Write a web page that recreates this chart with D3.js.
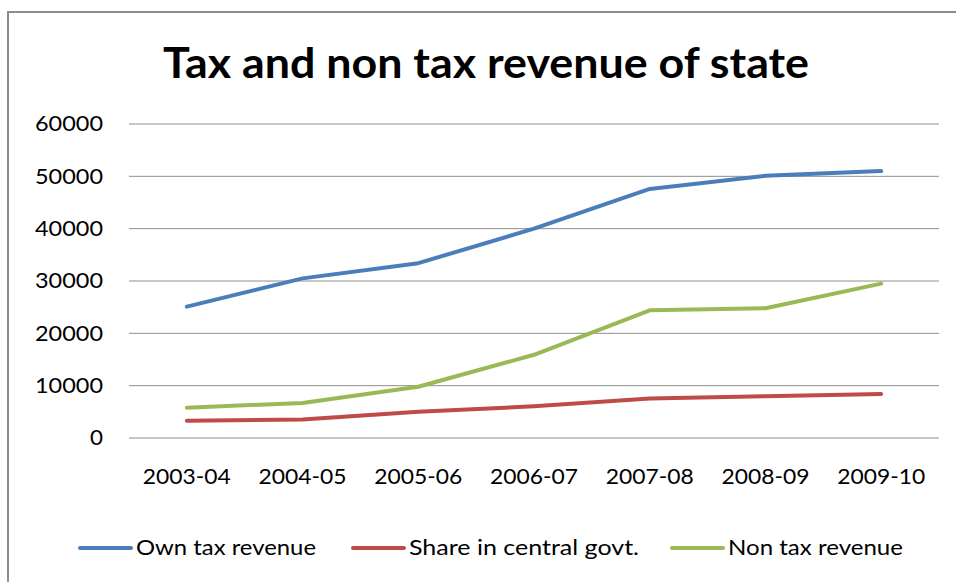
<!doctype html>
<html>
<head>
<meta charset="utf-8">
<style>
body { margin:0; background:#fff; }
svg text { font-family: Lato, "Open Sans", sans-serif; fill:#000; }
</style>
<script src="https://d3js.org/d3.v7.min.js"></script>
</head>
<body>
<script>

// chart data
var years = ['2003-04','2004-05','2005-06','2006-07','2007-08','2008-09','2009-10'];
var ownTax = [25100, 30500, 33400, 40000, 47600, 50100, 51000];
var centralShare = [3300, 3550, 5000, 6050, 7550, 8000, 8400];
var nonTax = [5800, 6700, 9800, 15900, 24400, 24800, 29500];
var yTicks = [0, 10000, 20000, 30000, 40000, 50000, 60000];
var seriesNames = ['Own tax revenue', 'Share in central govt.', 'Non tax revenue'];
var seriesColors = ['#4a7ebb', '#be4b48', '#98b954'];

var width = 956, height = 582;

var svg = d3.select('body').append('svg')
      .attr('width', width)
      .attr('height', height);

// outer chart border
svg.append('rect')
   .attr('x', 8).attr('y', 12)
   .attr('width', 960).attr('height', 590)
   .attr('fill', 'none')
   .attr('stroke', '#8c8c8c')
   .attr('stroke-width', 2);

svg.append('text')
   .attr('x', 486).attr('y', 78)
   .attr('text-anchor', 'middle')
   .attr('textLength', 646)
   .attr('lengthAdjust', 'spacingAndGlyphs')
   .style('font-size', '42px')
   .style('font-weight', 'bold')
   .text('Tax and non tax revenue of state');

var x = d3.scaleBand().domain(years).range([129, 939]);
var y = d3.scaleLinear().domain([0, 60000]).range([438, 124]);

// gridlines
svg.append('g')
   .selectAll('line')
   .data(yTicks)
   .enter()
   .append('line')
   .attr('x1', 129).attr('x2', 939)
   .attr('y1', function(d) { return y(d); })
   .attr('y2', function(d) { return y(d); })
   .attr('stroke', '#8e8e8e')
   .attr('stroke-width', 1);

// y axis labels
var yAxis = svg.append('g')
   .attr('transform', 'translate(103,0)')
   .call(d3.axisLeft(y).tickValues(yTicks).tickSize(0).tickPadding(0).tickFormat(d3.format('d')));
yAxis.select('.domain').remove();
yAxis.selectAll('text')
   .style('font-size', '21px')
   .style('font-family', 'Lato, sans-serif')
   .attr('textLength', function(d) { return d === 0 ? 13 : 68; })
   .attr('lengthAdjust', 'spacingAndGlyphs');

// x axis labels
var xAxis = svg.append('g')
   .attr('transform', 'translate(0,469)')
   .call(d3.axisBottom(x).tickSize(0).tickPadding(0));
xAxis.select('.domain').remove();
xAxis.selectAll('text')
   .style('font-size', '21px')
   .style('font-family', 'Lato, sans-serif')
   .attr('textLength', 88)
   .attr('lengthAdjust', 'spacingAndGlyphs');

var line = d3.line()
   .x(function(d, i) { return x(years[i]) + x.bandwidth() / 2; })
   .y(function(d) { return y(d); });

var allSeries = [ownTax, centralShare, nonTax];
svg.append('g')
   .selectAll('path')
   .data(allSeries)
   .enter()
   .append('path')
   .attr('d', line)
   .attr('fill', 'none')
   .attr('stroke', function(d, i) { return seriesColors[i]; })
   .attr('stroke-width', 4)
   .attr('stroke-linecap', 'round')
   .attr('stroke-linejoin', 'round');

// legend
var legendX = [80, 353, 672];
var legendW = [180, 230, 175];
var legend = svg.append('g')
   .selectAll('g')
   .data(seriesNames)
   .enter()
   .append('g')
   .attr('transform', function(d, i) { return 'translate(' + legendX[i] + ',548)'; });

legend.append('line')
   .attr('x1', 0).attr('x2', 51)
   .attr('stroke', function(d, i) { return seriesColors[i]; })
   .attr('stroke-width', 4)
   .attr('stroke-linecap', 'round');

legend.append('text')
   .attr('x', 56)
   .attr('dy', '0.35em')
   .attr('textLength', function(d, i) { return legendW[i]; })
   .attr('lengthAdjust', 'spacingAndGlyphs')
   .style('font-size', '21px')
   .text(function(d) { return d; });

</script>
</body>
</html>
